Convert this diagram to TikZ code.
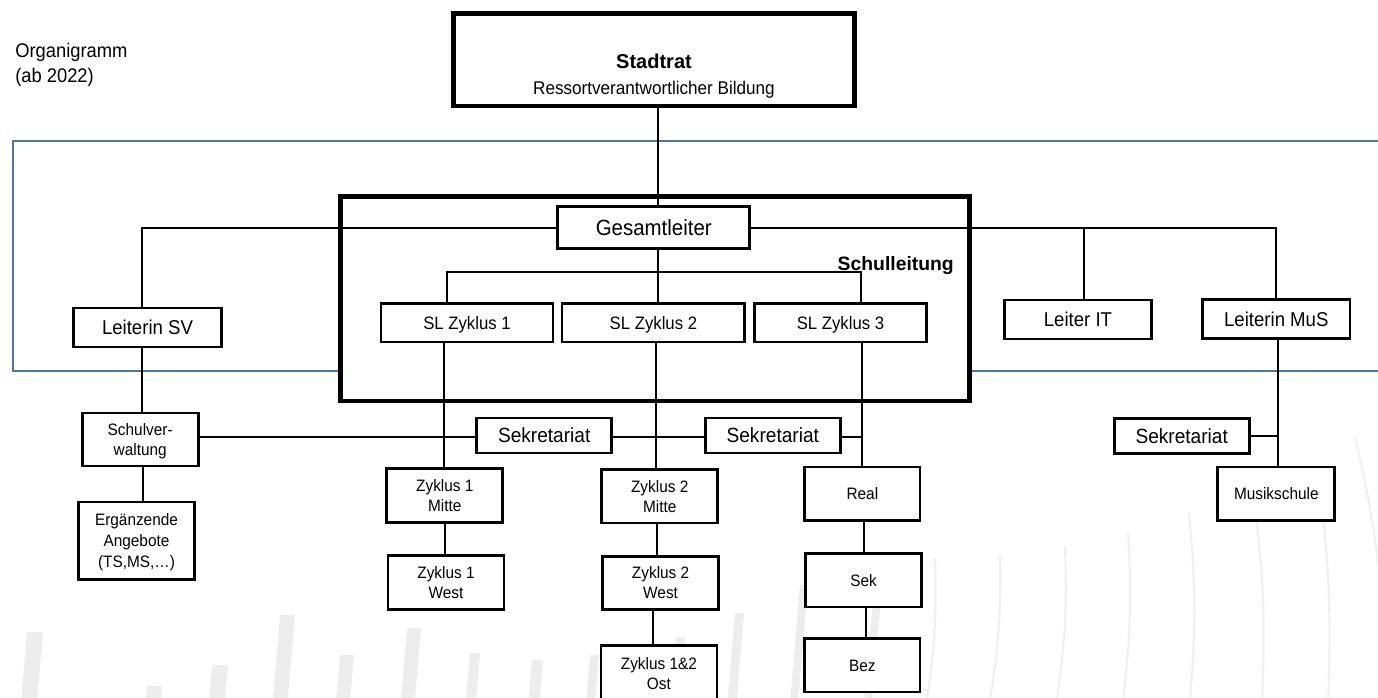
\documentclass[tikz,border=0pt]{standalone}
\usepackage{fontspec}
\setmainfont{Liberation Sans}
\newfontfamily\nf{Liberation Sans}[FakeStretch=0.93]
\usetikzlibrary{calc}
\definecolor{frameblue}{RGB}{74,118,168}
\definecolor{wmgray}{RGB}{237,237,237}
\definecolor{wmarc}{RGB}{240,240,240}
\begin{document}
\begin{tikzpicture}[x=0.75pt,y=-0.75pt,
  conn/.style={line width=1.5pt},
  box/.style={draw, line width=2.1pt, fill=white, inner sep=0pt, text depth=0pt},
  fbig/.style={font=\nf\fontsize{16.5pt}{19pt}\selectfont, text height=11.8pt},
  fsek/.style={font=\nf\fontsize{15.4pt}{18pt}\selectfont, text height=11pt},
  flei/.style={font=\nf\fontsize{15pt}{18pt}\selectfont, text height=10.7pt},
  fsl/.style={font=\nf\fontsize{13.5pt}{16pt}\selectfont, text height=9.7pt},
  fsm/.style={font=\nf\fontsize{12.4pt}{15pt}\selectfont, text height=8.9pt},
  sekbox/.style={box, fsek, minimum width=101.3pt, minimum height=26.3pt},
  leibox/.style={box, flei, minimum width=110.5pt, minimum height=29.2pt},
  slbx/.style={box, fsl, minimum height=28.9pt},
  smbox/.style={box, fsm, minimum width=87pt, minimum height=40.1pt},
  twoline/.style={smbox, text depth=15pt}
]
\useasboundingbox (0,0) rectangle (1378,697);
\begin{scope}
\clip (0,0) rectangle (1378,697);
% watermark
\foreach \t/\x/\w in {632/27/16, 686/147/15, 665/212/16, 615/280/15, 655/340/14, 628/407/14, 653/470/10, 660/532/11, 655/590/9, 637/676/9, 613/735/9, 585/800/8, 575/875/8}{
  \pgfmathsetmacro\d{0.085*(700-\t)}
  \fill[wmgray] (\x,\t) -- (\x+\w,\t) -- (\x+\w-\d,700) -- (\x-\d,700) -- cycle;
}
\foreach \xa/\ya/\xb/\yb in {935/558/927/700, 1000/555/990/700, 1065/547/1057/700, 1128/532/1123/700, 1189/512/1190/700, 1253/492/1262/700, 1317/470/1328/700, 1355/437/1385/650}{
  \draw[wmarc, line width=1.6pt] (\xa,\ya) to[bend left=5] (\xb,\yb);
}
% blue frame
\draw[frameblue, line width=2pt] (13,141) rectangle (1400,371);
\end{scope}

% Schulleitung frame
\node[draw, line width=3.4pt, fill=white, inner sep=0pt, minimum width=472.1pt, minimum height=153.4pt] (slbox) at (655,298.5) {};

% title
\node[anchor=north west, inner sep=0pt, align=left, font=\nf\fontsize{14.8pt}{18.4pt}\selectfont] (title) at (15,43) {Organigramm\\(ab 2022)};

% Stadtrat
\node[box, line width=3.4pt, minimum width=301.1pt, minimum height=69.4pt, text height=13.2pt, text depth=0pt] (stadtrat) at (654,59.5)
  {\fontsize{15pt}{19.5pt}\selectfont\begin{tabular}[t]{@{}c@{}}\bfseries Stadtrat\\ \nf\fontsize{13.8pt}{19.5pt}\selectfont Ressortverantwortlicher Bildung\end{tabular}};

\node[box, fbig, minimum width=144pt, minimum height=31.9pt] (gesamt) at (653.75,227.5) {Gesamtleiter};
\node[slbx, minimum width=129pt] (sl1) at (467,322.8) {SL Zyklus 1};
\node[slbx, minimum width=137.1pt] (sl2) at (653.4,322.8) {SL Zyklus 2};
\node[slbx, minimum width=129.4pt] (sl3) at (840.5,322.8) {SL Zyklus 3};
\node[leibox] (lsv) at (147.5,327.5) {Leiterin SV};
\node[leibox] (lit) at (1078,319.5) {Leiter IT};
\node[leibox] (lmus) at (1276.3,319) {Leiterin MuS};

\node[box, fsm, minimum width=87pt, minimum height=39.8pt, text depth=14.5pt] (sv) at (140.2,439.5)
  {\fontsize{12.4pt}{14.5pt}\selectfont\begin{tabular}[t]{@{}c@{}}Schulver-\\waltung\end{tabular}};
\node[box, fsm, minimum width=87pt, minimum height=58.2pt, text depth=31.5pt] (erg) at (136.5,540.8)
  {\fontsize{12.4pt}{15.75pt}\selectfont\begin{tabular}[t]{@{}c@{}}Ergänzende\\Angebote\\(TS,MS,…)\end{tabular}};

\node[sekbox] (sekA) at (544.2,435.5) {Sekretariat};
\node[sekbox] (sekB) at (772.8,435.5) {Sekretariat};
\node[sekbox] (sekC) at (1181.7,435.8) {Sekretariat};

\node[twoline] (z1m) at (444.8,495.5) {\begin{tabular}[t]{@{}c@{}}Zyklus 1\\Mitte\end{tabular}};
\node[twoline] (z1w) at (446,582.5) {\begin{tabular}[t]{@{}c@{}}Zyklus 1\\West\end{tabular}};
\node[twoline] (z2m) at (659.7,496.3) {\begin{tabular}[t]{@{}c@{}}Zyklus 2\\Mitte\end{tabular}};
\node[twoline] (z2w) at (660.6,583) {\begin{tabular}[t]{@{}c@{}}Zyklus 2\\West\end{tabular}};
\node[twoline, minimum height=42pt] (ost) at (658.9,673.5) {\begin{tabular}[t]{@{}c@{}}Zyklus 1\&2\\Ost\end{tabular}};

\node[smbox, minimum width=86.3pt] (real) at (862.4,493.7) {Real};
\node[smbox, minimum width=87.4pt] (sek) at (863.5,580.3) {Sek};
\node[smbox, minimum width=86.3pt] (bez) at (862.4,665.3) {Bez};
\node[smbox, minimum width=87.8pt] (musik) at (1276.3,493.7) {Musikschule};

% connectors
\coordinate (xS) at (658,0);
\draw[conn] (xS |- stadtrat.south) -- (xS |- gesamt.north);
\coordinate (jL) at (142,227.5);
\draw[conn] (gesamt.west) -- (jL) -- (jL |- lsv.north);
\draw[conn] (gesamt.east) -| (lmus.north);
\coordinate (jIT) at (1084,227.5);
\draw[conn] (jIT) -- (jIT |- lit.north);
\coordinate (xG) at (657.6,0);
\draw[conn] (xG |- gesamt.south) -- (xG |- sl2.north);
\coordinate (bL) at (446.6,271.7);
\coordinate (bR) at (861.4,271.7);
\draw[conn] (bL |- sl1.north) -- (bL) -- (bR) -- (bR |- sl3.north);
\coordinate (x1) at (444,0);
\draw[conn] (x1 |- sl1.south) -- (x1 |- z1m.north);
\coordinate (x2) at (655.5,0);
\draw[conn] (x2 |- sl2.south) -- (x2 |- z2m.north);
\coordinate (x3) at (861.5,0);
\draw[conn] (x3 |- sl3.south) -- (x3 |- real.north);
\coordinate (hS) at (0,437.3);
\draw[conn] (sv.east |- hS) -- (sekA.west |- hS);
\draw[conn] (sekA.east |- hS) -- (sekB.west |- hS);
\draw[conn] (sekB.east |- hS) -- (x3 |- hS);
\coordinate (xM) at (1278.3,0);
\draw[conn] (xM |- lmus.south) -- (xM |- musik.north);
\draw[conn] (sekC.east) -- (xM |- sekC.east);
\coordinate (xSV) at (142,0);
\draw[conn] (xSV |- lsv.south) -- (xSV |- sv.north);
\coordinate (xE) at (143.3,0);
\draw[conn] (xE |- sv.south) -- (xE |- erg.north);
\coordinate (x1b) at (444.7,0);
\draw[conn] (x1b |- z1m.south) -- (x1b |- z1w.north);
\coordinate (x2b) at (657,0);
\draw[conn] (x2b |- z2m.south) -- (x2b |- z2w.north);
\coordinate (x2c) at (653.4,0);
\draw[conn] (x2c |- z2w.south) -- (x2c |- ost.north);
\coordinate (x3b) at (863.9,0);
\draw[conn] (x3b |- real.south) -- (x3b |- sek.north);
\coordinate (x3c) at (865.7,0);
\draw[conn] (x3c |- sek.south) -- (x3c |- bez.north);

% Schulleitung label
\node[anchor=base east, inner sep=0pt, font=\bfseries\fontsize{14.5pt}{17pt}\selectfont] (sllabel) at (954,270.7) {Schulleitung};
\end{tikzpicture}
\end{document}
